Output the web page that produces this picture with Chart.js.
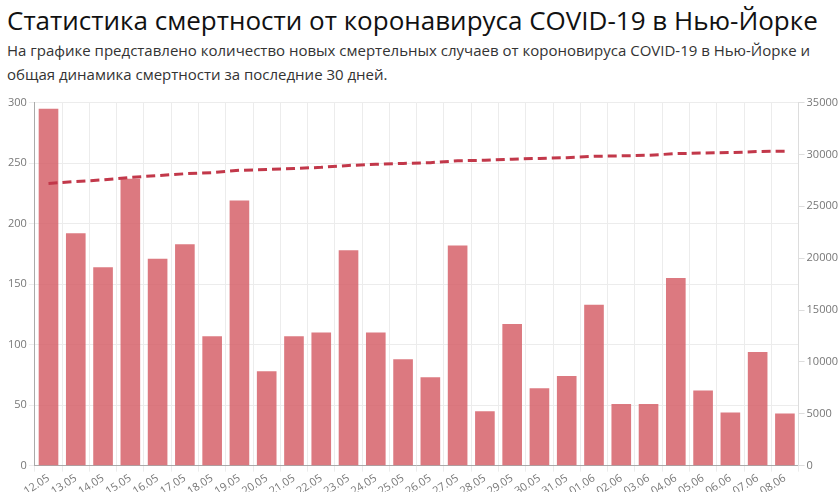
<!DOCTYPE html>
<html lang="ru">
<head>
<meta charset="utf-8">
<script src="https://cdn.jsdelivr.net/npm/chart.js@4/dist/chart.umd.min.js"></script>
<style>
  html, body { margin: 0; padding: 0; background: #fff; }
  body { width: 840px; height: 492px; overflow: hidden; position: relative; font-family: "Open Sans", sans-serif; }
  h1 { position: absolute; left: 7px; top: 2px; margin: 0; font-size: 26px; font-weight: 400; color: #111; white-space: nowrap; }
  p { position: absolute; left: 7px; top: 38px; margin: 0; font-size: 15px; line-height: 24px; color: #333; width: 830px; }
  #box { position: absolute; left: 0; top: 94px; width: 840px; height: 404px; }
</style>
</head>
<body>
<h1>Статистика смертности от коронавируса COVID-19 в Нью-Йорке</h1>
<p>На графике представлено количество новых смертельных случаев от короновируса COVID-19 в Нью-Йорке и общая динамика смертности за последние 30 дней.</p>
<div id="box"><canvas id="chart"></canvas></div>
<script>
// Даты
const days = ["12.05", "13.05", "14.05", "15.05", "16.05", "17.05", "18.05", "19.05", "20.05", "21.05",
  "22.05", "23.05", "24.05", "25.05", "26.05", "27.05", "28.05", "29.05", "30.05", "31.05",
  "01.06", "02.06", "03.06", "04.06", "05.06", "06.06", "07.06", "08.06"];

// Новые смертельные случаи за день (левая ось)
const newDeaths = [295, 192, 164, 237, 171, 183, 107, 219, 78, 107,
  110, 178, 110, 88, 73, 182, 45, 117, 64, 74,
  133, 51, 51, 155, 62, 44, 94, 43];

// Всего умерших (правая ось)
const totalDeaths = [27200, 27390, 27550, 27790, 27960, 28140, 28250, 28470, 28550, 28650,
  28760, 28940, 29050, 29140, 29210, 29390, 29440, 29550, 29620, 29690,
  29820, 29870, 29920, 30080, 30140, 30180, 30280, 30320];

const tickFont = { family: "Open Sans", size: 11 };

new Chart(document.getElementById("chart").getContext("2d"), {
  data: {
    labels: days,
    datasets: [
      {
        type: "line",
        label: "Всего",
        data: totalDeaths,
        yAxisID: "y1",
        borderColor: "#c2384a",
        borderWidth: 3,
        borderDash: [9, 5],
        pointRadius: 0,
        fill: false,
        tension: 0,
        order: 0,
      },
      {
        type: "bar",
        label: "Новые",
        data: newDeaths,
        yAxisID: "y",
        backgroundColor: "rgba(214, 98, 106, 0.85)",
        order: 1,
      },
    ],
  },
  options: {
    responsive: true,
    maintainAspectRatio: false,
    animation: false,
    layout: { padding: { left: 6, right: 0, top: 6 } },
    plugins: {
      legend: { display: false },
      tooltip: { enabled: false },
    },
    scales: {
      x: {
        grid: { color: "#ececec", tickLength: 6 },
        border: { color: "#aaa" },
        ticks: { font: tickFont, color: "#777", autoSkip: false, minRotation: 33, maxRotation: 33, padding: 0 },
      },
      y: {
        position: "left",
        min: 0,
        max: 300,
        grid: { color: "#ececec", tickLength: 6 },
        border: { color: "#aaa" },
        ticks: { stepSize: 50, font: tickFont, color: "#777", padding: 2 },
      },
      y1: {
        position: "right",
        min: 0,
        max: 35000,
        grid: { drawOnChartArea: false, tickLength: 6, color: "#ddd" },
        border: { color: "#ddd" },
        ticks: { stepSize: 5000, font: tickFont, color: "#777", padding: 2, callback: (v) => String(v) },
      },
    },
  },
});
</script>
</body>
</html>
